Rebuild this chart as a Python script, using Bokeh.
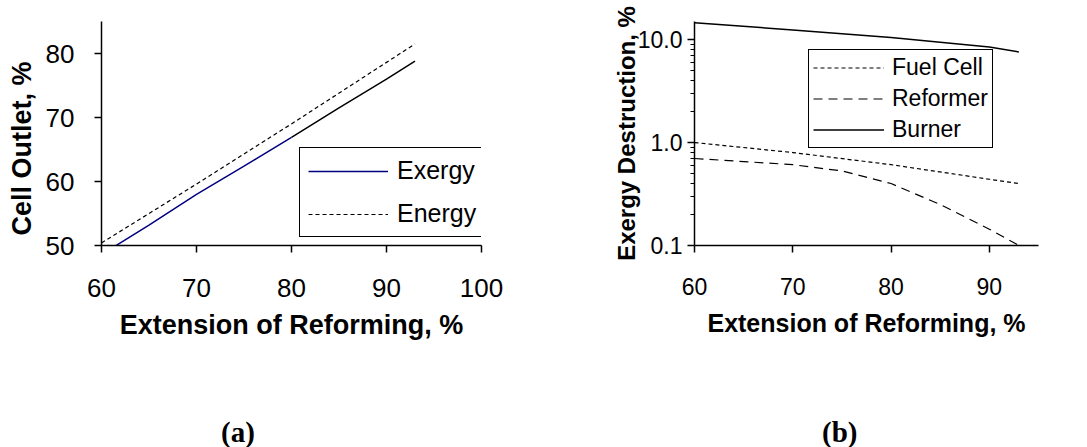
from bokeh.plotting import figure
from bokeh.layouts import row, column
from bokeh.models import (FixedTicker, CustomJSTickFormatter, Legend, LegendItem,
                          Range1d, Div)
from bokeh.embed import file_html
from bokeh.resources import INLINE

# ---------------- data (a) ----------------
exergy_x_blue = [61, 65, 70, 75, 80]
exergy_y_blue = [49.5, 53.2, 58.0, 62.4, 66.9]
exergy_x_black = [80, 85, 90, 93]
exergy_y_black = [66.9, 71.5, 76.0, 78.8]
energy_x = [60, 70, 80, 93]
energy_y = [50.4, 59.6, 69.0, 81.5]
xticks_a = [60, 70, 80, 90, 100]
yticks_a = [50, 60, 70, 80]

# ---------------- data (b) ----------------
burner_x = [60, 70, 80, 90, 93]
burner_y = [14.6, 12.4, 10.5, 8.5, 7.6]
fuelcell_x = [60, 70, 80, 90, 93]
fuelcell_y = [1.0, 0.80, 0.61, 0.44, 0.40]
reformer_x = [60, 70, 75, 80, 85, 90, 93]
reformer_y = [0.70, 0.61, 0.53, 0.40, 0.25, 0.144, 0.10]
xticks_b = [60, 70, 80, 90]
yticks_b = [0.1, 1, 10]
yminor_b = [0.2, 0.3, 0.4, 0.5, 0.6, 0.7, 0.8, 0.9, 2, 3, 4, 5, 6, 7, 8, 9]

SANS = "Liberation Sans"
SERIF = "Liberation Serif"
PAD = "\u00a0\u00a0\u00a0"  # trailing pad shifts rotated title slightly downward


def style_axes(p, tick_size, title_size):
    for ax in (p.xaxis[0], p.yaxis[0]):
        ax.axis_line_color = "black"
        ax.axis_line_width = 1.5
        ax.major_tick_line_color = "black"
        ax.major_tick_line_width = 1.5
        ax.minor_tick_line_color = "black"
        ax.minor_tick_line_width = 1.2
        ax.major_tick_in = 0
        ax.major_tick_out = 7
        ax.minor_tick_in = 0
        ax.minor_tick_out = 4
        ax.major_label_text_font = SANS
        ax.major_label_text_font_size = tick_size
        ax.major_label_text_color = "black"
        ax.axis_label_text_font = SANS
        ax.axis_label_text_font_style = "bold"
        ax.axis_label_text_font_size = title_size
        ax.axis_label_text_color = "black"
    p.grid.visible = False
    p.outline_line_color = None


PLOT_H = 400

# ---------------- figure (a) ----------------
p1 = figure(width=520, height=PLOT_H, output_backend="svg", toolbar_location=None,
            x_range=Range1d(60, 100), y_range=Range1d(50, 85),
            min_border_left=101, min_border_right=39, min_border_top=21,
            min_border_bottom=PLOT_H - 21 - 224)
style_axes(p1, "26px", "27px")
p1.xaxis.ticker = FixedTicker(ticks=xticks_a)
p1.yaxis.ticker = FixedTicker(ticks=yticks_a)
p1.xaxis.minor_tick_out = 0
p1.yaxis.minor_tick_out = 0
p1.xaxis.axis_label = "Extension of Reforming, %"
p1.yaxis.axis_label = "Cell Outlet,  %" + PAD
p1.xaxis.major_label_standoff = 26
p1.xaxis.axis_label_standoff = 10
p1.yaxis.major_label_standoff = 20
p1.yaxis.axis_label_standoff = 6

r_ex = p1.line(exergy_x_blue, exergy_y_blue, line_color="#000080", line_width=1.5)
p1.line(exergy_x_black, exergy_y_black, line_color="black", line_width=1.5)
r_en = p1.line(energy_x, energy_y, line_color="black", line_width=1.2, line_dash="4 3")

leg1 = Legend(items=[LegendItem(label="Exergy", renderers=[r_ex]),
                     LegendItem(label="Energy", renderers=[r_en])],
              location=(198, 8), margin=0, padding=8, spacing=14,
              glyph_width=80, glyph_height=26, label_standoff=9, label_width=76,
              label_text_font=SANS, label_text_font_size="25px",
              label_text_color="black", label_text_line_height=1.0,
              border_line_color="black", border_line_width=1.5, border_line_alpha=1.0,
              background_fill_color="white", background_fill_alpha=1.0)
p1.add_layout(leg1, "center")

# ---------------- figure (b) ----------------
p2 = figure(width=567, height=PLOT_H, output_backend="svg", toolbar_location=None,
            x_range=Range1d(60, 95), y_range=Range1d(0.1, 15), y_axis_type="log",
            min_border_left=174, min_border_right=49, min_border_top=18,
            min_border_bottom=PLOT_H - 18 - 230)
style_axes(p2, "23px", "24px")
p2.xaxis.axis_label_text_font_size = "25px"
p2.xaxis.ticker = FixedTicker(ticks=xticks_b)
p2.xaxis.minor_tick_out = 0
p2.yaxis.ticker = FixedTicker(ticks=yticks_b, minor_ticks=yminor_b)
p2.yaxis.formatter = CustomJSTickFormatter(code="return tick.toFixed(1);")
p2.xaxis.axis_label = "Extension of Reforming, %"
p2.yaxis.axis_label = "Exergy Destruction, %"
p2.xaxis.major_label_standoff = 25
p2.xaxis.axis_label_standoff = 11
p2.yaxis.major_label_standoff = 5
p2.yaxis.axis_label_standoff = -5

r_fc = p2.line(fuelcell_x, fuelcell_y, line_color="black", line_width=1.2, line_dash="4 3")
r_rf = p2.line(reformer_x, reformer_y, line_color="black", line_width=1.2, line_dash="9 6")
r_bu = p2.line(burner_x, burner_y, line_color="black", line_width=1.5)

leg2 = Legend(items=[LegendItem(label="Fuel Cell", renderers=[r_fc]),
                     LegendItem(label="Reformer", renderers=[r_rf]),
                     LegendItem(label="Burner", renderers=[r_bu])],
              location=(114, 97), margin=0, padding=4, spacing=4,
              glyph_width=71, glyph_height=23, label_standoff=8, label_width=96,
              label_text_font=SANS, label_text_font_size="23px",
              label_text_color="black", label_text_line_height=1.0,
              border_line_color="black", border_line_width=1.5, border_line_alpha=1.0,
              background_fill_color="white", background_fill_alpha=1.0)
p2.add_layout(leg2, "center")

# ---------------- panel captions ----------------
CAP_H = 447 - PLOT_H
CAP_STYLE = ("font-family:'Liberation Serif';font-weight:bold;font-size:29px;"
             "line-height:28px;margin:0;padding:18px 0 0 0;white-space:nowrap;")
div_a = Div(text=f'<div style="{CAP_STYLE}margin-left:216px;">(a)</div>',
            width=520, height=CAP_H, styles={"margin-top": "0px", "padding": "0px"})
div_b = Div(text=f'<div style="{CAP_STYLE}margin-left:287px;">(b)</div>',
            width=567, height=CAP_H, styles={"margin-top": "0px", "padding": "0px"})

layout = column(row(p1, p2, spacing=0), row(div_a, div_b, spacing=0), spacing=0)
open("out.html", "w").write(file_html(layout, INLINE))
